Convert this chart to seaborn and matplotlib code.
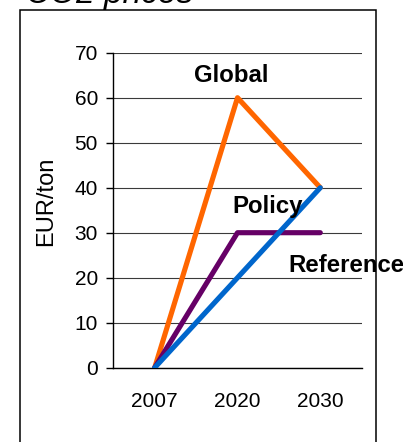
import matplotlib
matplotlib.use("Agg")
import matplotlib.pyplot as plt
from matplotlib.patches import Rectangle
import seaborn as sns
import pandas as pd

# Carbon price paths by scenario
years = ["2007", "2020", "2030"]
global_path = [0, 60, 40]
policy_path = [0, 30, 30]
reference_path = [0, 20, 40]
series_names = ["Global", "Policy", "Reference"]
series_colors = {"Global": "#FF6600", "Policy": "#660066", "Reference": "#0066CC"}
y_ticks = [0, 10, 20, 30, 40, 50, 60, 70]

df = pd.DataFrame({
    "year": years * 3,
    "price": global_path + policy_path + reference_path,
    "scenario": [s for s in series_names for _ in years],
})

sns.set_style("white")
plt.rcParams["font.family"] = ["Liberation Sans", "DejaVu Sans"]
plt.rcParams["text.color"] = "black"
plt.rcParams["axes.labelcolor"] = "black"

W, H = 403, 442
fig = plt.figure(figsize=(W / 100, H / 100), dpi=100)
ax = fig.add_axes([113.3 / W, 1 - 367.7 / H, (361.7 - 113.3) / W, (367.7 - 52.7) / H])

sns.lineplot(data=df, x="year", y="price", hue="scenario", hue_order=series_names,
             palette=series_colors, sort=False, linewidth=3.7, legend=False, ax=ax,
             solid_capstyle="round", zorder=3)

ax.set_xlim(-0.5, 2.5)
ax.set_ylim(0, 70)
ax.set_yticks(y_ticks)
ax.set_yticklabels([str(v) for v in y_ticks])
ax.yaxis.grid(True, color="#3a3a3a", linewidth=0.8, zorder=0)
ax.xaxis.grid(False)
ax.set_axisbelow(True)

# Category labels centred, tick marks between categories
ax.set_xticks(range(len(years)))
ax.set_xticklabels(years)
ax.set_xticks([-0.5, 0.5, 1.5, 2.5], minor=True)
ax.tick_params(axis="x", which="major", length=0, pad=17.5, labelsize=15, colors="black")
ax.tick_params(axis="x", which="minor", length=5, width=1, direction="out", color="black")
ax.tick_params(axis="y", which="major", length=5, width=1, direction="out", pad=6,
               labelsize=15, colors="black", left=True)

for side in ["top", "right"]:
    ax.spines[side].set_visible(False)
for side in ["left", "bottom"]:
    ax.spines[side].set_color("black")
    ax.spines[side].set_linewidth(1)

ax.set_xlabel("")
ax.set_ylabel("EUR/ton", fontsize=17, va="center", ha="center")
ax.yaxis.set_label_coords(-0.271, 0.528)

# Scenario labels
lab = dict(fontsize=17.3, fontweight="bold", ha="left", va="baseline", zorder=4)
ax.text(0.477, 63.5, "Global", **lab)
ax.text(0.936, 34.4, "Policy", **lab)
ax.text(1.612, 21.3, "Reference", clip_on=False, **lab)

# Outer frame and title
fig.patches.append(Rectangle((20 / W, -0.05), (375.6 - 20) / W, 1.05 - 10 / H,
                             transform=fig.transFigure, fill=False, edgecolor="black",
                             linewidth=1.1))
fig.text(26 / W, 1 - 3 / H, "CO2 prices", fontsize=24, fontstyle="italic",
         ha="left", va="baseline")

fig.savefig("out.png", dpi=100)
